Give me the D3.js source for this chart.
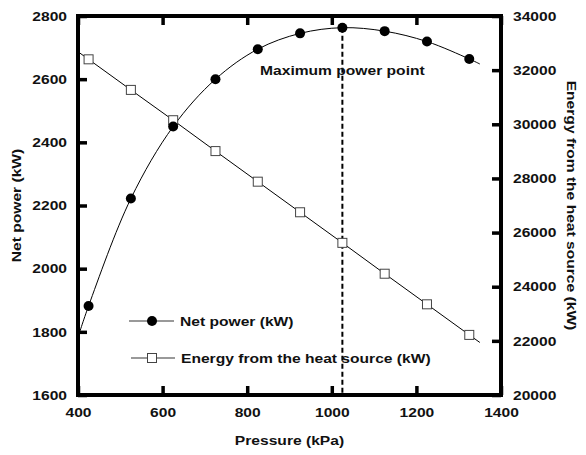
<!DOCTYPE html>
<html><head><meta charset="utf-8">
<script src="https://cdn.jsdelivr.net/npm/d3@7/dist/d3.min.js"></script>
<style>
body{margin:0;background:#fff}
text{font-family:"Liberation Sans",Arial,sans-serif;font-weight:bold;font-size:13px;fill:#111}
</style>
</head><body>
<svg id="c" width="586" height="455"></svg>
<script>
// ---- data ----
const pressure = [425, 525, 625, 725, 825, 925, 1025, 1125, 1225, 1325];
const netPower = [1882, 2222, 2450, 2600, 2695, 2745, 2763, 2752, 2719, 2664];
const heatEnergy = [32400, 31270, 30150, 29010, 27880, 26750, 25620, 24480, 23350, 22220];
// fitted curve ends drawn in the figure
const curveStartP = 400, curveEndP = 1350;
const netPowerCurveEnds = [1783, 2648];
const heatEnergyCurveEnds = [32680, 21940];
const maxPowerPressure = 1025;
const maxPowerValue = 2763;
const xTicks = [400, 600, 800, 1000, 1200, 1400];
const yLeftTicks = [1600, 1800, 2000, 2200, 2400, 2600, 2800];
const yRightTicks = [20000, 22000, 24000, 26000, 28000, 30000, 32000, 34000];
const legendLabels = ["Net power (kW)", "Energy from the heat source (kW)"];

// ---- layout ----
const L = 78, T = 16, R = 501, B = 395;
const STRETCH = 1.2;
const svg = d3.select("#c");
const x = d3.scaleLinear().domain([400, 1400]).range([L, R]);
const yL = d3.scaleLinear().domain([1600, 2800]).range([B, T]);
const yR = d3.scaleLinear().domain([20000, 34000]).range([B, T]);

function stretch(sel) {
  sel.each(function () {
    const w = this.getComputedTextLength();
    d3.select(this).attr("textLength", w * STRETCH).attr("lengthAdjust", "spacingAndGlyphs");
  });
}

// axes
const gB = svg.append("g").attr("transform", `translate(0,${B})`)
  .call(d3.axisBottom(x).tickValues(xTicks).tickSize(-9).tickPadding(13).tickFormat(d3.format("d")));
const gT = svg.append("g").attr("transform", `translate(0,${T})`)
  .call(d3.axisTop(x).tickValues(xTicks).tickSize(-9).tickFormat(""));
const gL = svg.append("g").attr("transform", `translate(${L},0)`)
  .call(d3.axisLeft(yL).tickValues(yLeftTicks).tickSize(-9).tickPadding(11).tickFormat(d3.format("d")));
const gR = svg.append("g").attr("transform", `translate(${R},0)`)
  .call(d3.axisRight(yR).tickValues(yRightTicks).tickSize(-9).tickPadding(12).tickFormat(d3.format("d")));
[gB, gT, gL, gR].forEach(g => {
  g.select(".domain").remove();
  g.attr("font-family", null).attr("font-size", null);
  g.selectAll(".tick line").attr("stroke", "#000").attr("stroke-width", 3.5);
  g.selectAll(".tick text").attr("fill", "#111").call(stretch);
});

// frame
svg.append("rect").attr("x", L).attr("y", T).attr("width", R - L).attr("height", B - T)
  .attr("fill", "none").attr("stroke", "#000").attr("stroke-width", 4);

// clip for curves
svg.append("clipPath").attr("id", "clip").append("rect")
  .attr("x", L).attr("y", T).attr("width", R - L).attr("height", B - T);

// net power curve
const netCurve = [[curveStartP, netPowerCurveEnds[0]]]
  .concat(pressure.map((p, i) => [p, netPower[i]]))
  .concat([[curveEndP, netPowerCurveEnds[1]]]);
const heatCurve = [[curveStartP, heatEnergyCurveEnds[0]]]
  .concat(pressure.map((p, i) => [p, heatEnergy[i]]))
  .concat([[curveEndP, heatEnergyCurveEnds[1]]]);

const plot = svg.append("g").attr("clip-path", "url(#clip)");
plot.append("path")
  .attr("d", d3.line().x(d => x(d[0])).y(d => yL(d[1])).curve(d3.curveCatmullRom)(netCurve))
  .attr("fill", "none").attr("stroke", "#000").attr("stroke-width", 1);
plot.append("path")
  .attr("d", d3.line().x(d => x(d[0])).y(d => yR(d[1]))(heatCurve))
  .attr("fill", "none").attr("stroke", "#000").attr("stroke-width", 1);

// dashed max power line
svg.append("line")
  .attr("x1", x(maxPowerPressure)).attr("x2", x(maxPowerPressure))
  .attr("y1", yL(maxPowerValue)).attr("y2", B)
  .attr("stroke", "#000").attr("stroke-width", 2).attr("stroke-dasharray", "5,3");

// markers
svg.append("g").selectAll("rect").data(pressure).join("rect")
  .attr("x", (d) => x(d) - 4.5).attr("y", (d, i) => yR(heatEnergy[i]) - 4.5)
  .attr("width", 9).attr("height", 9)
  .attr("fill", "#fff").attr("stroke", "#444").attr("stroke-width", 1);
svg.append("g").selectAll("circle").data(pressure).join("circle")
  .attr("cx", d => x(d)).attr("cy", (d, i) => yL(netPower[i])).attr("r", 5).attr("fill", "#000");

// annotation
svg.append("text").attr("x", x(maxPowerPressure)).attr("y", 75).attr("text-anchor", "middle")
  .text("Maximum power point").call(stretch);

// legend
const lg = svg.append("g");
lg.append("line").attr("x1", 129).attr("x2", 174).attr("y1", 321).attr("y2", 321).attr("stroke", "#777").attr("stroke-width", 1.5);
lg.append("circle").attr("cx", 152).attr("cy", 321).attr("r", 5).attr("fill", "#000");
lg.append("text").attr("x", 180).attr("y", 325.5).text(legendLabels[0]).call(stretch);
lg.append("line").attr("x1", 131).attr("x2", 175).attr("y1", 358).attr("y2", 358).attr("stroke", "#777").attr("stroke-width", 1.5);
lg.append("rect").attr("x", 147.5).attr("y", 353.5).attr("width", 9).attr("height", 9).attr("fill", "#fff").attr("stroke", "#444");
lg.append("text").attr("x", 181).attr("y", 362.5).text(legendLabels[1]).call(stretch);

// axis titles
svg.append("text").attr("x", (L + R) / 2).attr("y", 445).attr("text-anchor", "middle").text("Pressure (kPa)").call(stretch);
svg.append("text").attr("transform", `translate(21,${(T + B) / 2}) rotate(-90)`).attr("text-anchor", "middle").text("Net power (kW)").call(stretch);
svg.append("text").attr("transform", `translate(567,${(T + B) / 2}) rotate(90)`).attr("text-anchor", "middle").text("Energy from the heat source (kW)").call(stretch);
</script>
</body></html>
